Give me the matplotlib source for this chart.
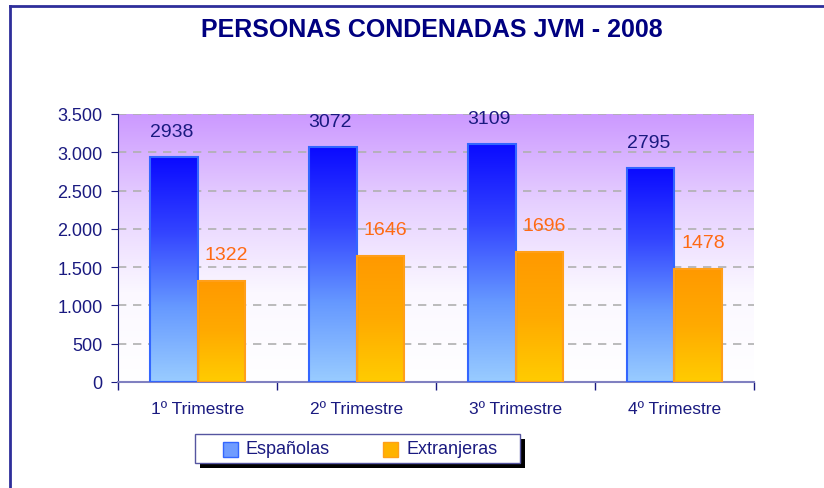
import numpy as np
import matplotlib.pyplot as plt
from matplotlib.colors import LinearSegmentedColormap
from matplotlib.patches import Rectangle
from matplotlib.lines import Line2D

# data
categories = ['1º Trimestre', '2º Trimestre', '3º Trimestre', '4º Trimestre']
espanolas = [2938, 3072, 3109, 2795]
extranjeras = [1322, 1646, 1696, 1478]
yticks = [0, 500, 1000, 1500, 2000, 2500, 3000, 3500]
ytick_labels = ['0', '500', '1.000', '1.500', '2.000', '2.500', '3.000', '3.500']

navy = '#1a1a80'
plt.rcParams['font.family'] = ['Liberation Sans', 'DejaVu Sans']

W, H = 824, 489
fig = plt.figure(figsize=(W / 100, H / 100), dpi=100)
ax = fig.add_axes([118 / W, 1 - 383 / H, (754 - 118) / W, (383 - 115) / H])

# plot-area background: purple at top fading to white
bg = LinearSegmentedColormap.from_list('bg', ['#ffffff', '#fbf8ff', '#e6d0ff', '#cc99ff'])
grad = np.linspace(0, 1, 256).reshape(-1, 1)
ax.imshow(grad, cmap=bg, origin='lower', aspect='auto', extent=[0, 1, 0, 1],
          transform=ax.transAxes, zorder=0)

x = np.arange(len(categories))
bw = 0.296
blue_cm = LinearSegmentedColormap.from_list('b', ['#99ccff', '#6699ff', '#3344ff', '#0a0aff'])
orange_cm = LinearSegmentedColormap.from_list('o', ['#ffcc00', '#ffaa00', '#ff9900'])

bars1 = ax.bar(x - bw / 2, espanolas, bw, facecolor='none', edgecolor='#3366ff', lw=1.5, zorder=3)
bars2 = ax.bar(x + bw / 2, extranjeras, bw, facecolor='none', edgecolor='#ff9f1a', lw=1.5, zorder=3)

# vertical gradient fill for each bar, full range per bar
for bars, cm in [(bars1, blue_cm), (bars2, orange_cm)]:
    for b in bars:
        bx, by, bwid, bh = b.get_x(), b.get_y(), b.get_width(), b.get_height()
        ax.imshow(grad, cmap=cm, origin='lower', aspect='auto',
                  extent=[bx, bx + bwid, by, by + bh], zorder=2)

for b, v in zip(bars1, espanolas):
    ax.annotate(str(v), (b.get_x() + b.get_width() / 2, v), xytext=(-2, 12),
                textcoords='offset points', ha='center', va='bottom', fontsize=14,
                color=navy)
for b, v in zip(bars2, extranjeras):
    ax.annotate(str(v), (b.get_x() + b.get_width() / 2, v), xytext=(4, 13),
                textcoords='offset points', ha='center', va='bottom', fontsize=14,
                color='#ff6a13')

ax.set_xlim(-0.5, len(categories) - 0.5)
ax.set_ylim(0, 3500)
ax.set_yticks(yticks)
ax.set_yticklabels(ytick_labels, fontsize=13, color=navy)
ax.set_xticks(x)
ax.set_xticklabels(categories, fontsize=12.5, color=navy)
ax.tick_params(axis='x', length=0, pad=14)
ax.tick_params(axis='y', length=5, color=navy, pad=6)
# category separator ticks on the x axis
ax.set_xticks(np.arange(-0.5, len(categories)), minor=True)
ax.tick_params(axis='x', which='minor', length=6, color=navy, width=1)

ax.grid(axis='y', linestyle=(0, (5, 4)), color='#b0b0b0', lw=1.2, zorder=1)
ax.set_axisbelow(True)
for s in ['top', 'right']:
    ax.spines[s].set_visible(False)
ax.spines['left'].set_color(navy)
ax.spines['bottom'].set_color('#8080c0')
ax.spines['bottom'].set_linewidth(1.5)

fig.text(432 / W, 1 - 30 / H, 'PERSONAS CONDENADAS JVM - 2008', ha='center', va='center',
         fontsize=18, fontweight='bold', color='#000080')

# outer frame (top and left edges visible)
fig.add_artist(Line2D([9.5 / W, 1], [1 - 6.5 / H, 1 - 6.5 / H], color='#2e2e9a', lw=2))
fig.add_artist(Line2D([9.5 / W, 9.5 / W], [0, 1 - 6.5 / H], color='#2e2e9a', lw=2))

# legend box with shadow
lx0, lx1, ly0, ly1 = 195, 520, 435, 464
fig.add_artist(Rectangle(((lx0 + 5) / W, 1 - (ly1 + 5) / H), (lx1 - lx0) / W, (ly1 - ly0) / H,
                         transform=fig.transFigure, facecolor='black', edgecolor='none'))
fig.add_artist(Rectangle((lx0 / W, 1 - ly1 / H), (lx1 - lx0) / W, (ly1 - ly0) / H,
                         transform=fig.transFigure, facecolor='white', edgecolor='#5555a0', lw=1))
for (sx, col, ec, label) in [(223, '#6f9cff', '#3366ff', 'Españolas'),
                             (383, '#ffb300', '#ff9f1a', 'Extranjeras')]:
    fig.add_artist(Rectangle((sx / W, 1 - 458 / H), 15 / W, 15 / H, transform=fig.transFigure,
                             facecolor=col, edgecolor=ec, lw=1))
    fig.text((sx + 23) / W, 1 - 450 / H, label, ha='left', va='center', fontsize=13,
             color=navy)

fig.savefig('out.png', dpi=100)
